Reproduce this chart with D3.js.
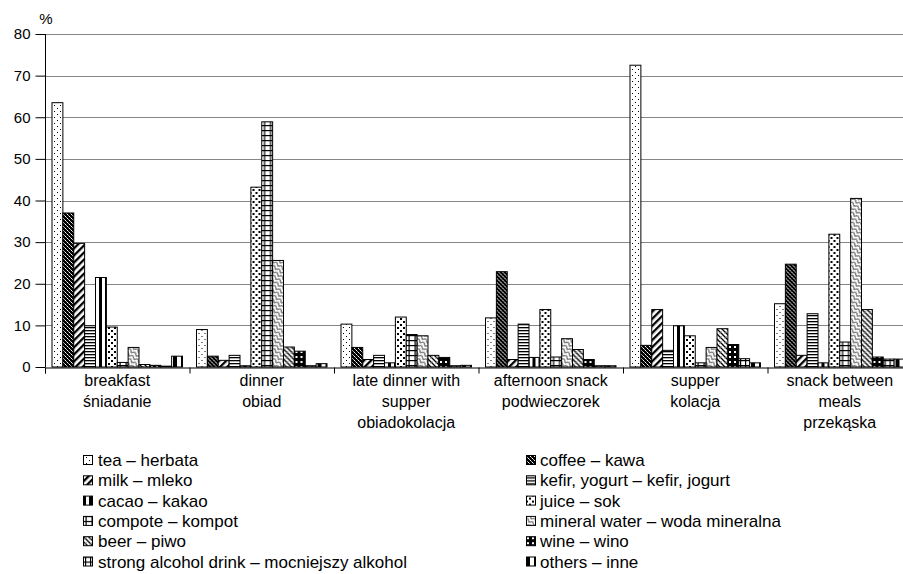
<!DOCTYPE html>
<html>
<head>
<meta charset="utf-8">
<script src="https://cdn.jsdelivr.net/npm/d3@7"></script>
<style>
  html, body { margin: 0; padding: 0; background: #fff; }
  svg { display: block; font-family: "Liberation Sans", Arial, sans-serif; }
</style>
</head>
<body>
<svg id="chart" width="903" height="574"></svg>
<script>
// Meal occasions (category axis), split into label lines
const categories = [
  ["breakfast", "śniadanie"],
  ["dinner", "obiad"],
  ["late dinner with", "supper", "obiadokolacja"],
  ["afternoon snack", "podwieczorek"],
  ["supper", "kolacja"],
  ["snack between", "meals", "przekąska"]
];

// Beverage series, in drawing order
const seriesNames = [
  "tea – herbata",
  "coffee – kawa",
  "milk – mleko",
  "kefir, yogurt – kefir, jogurt",
  "cacao – kakao",
  "juice – sok",
  "compote – kompot",
  "mineral water – woda mineralna",
  "beer – piwo",
  "wine – wino",
  "strong alcohol drink – mocniejszy alkohol",
  "others – inne"
];

// Percent of answers per meal, one array per beverage
const tea       = [63.5, 9.0, 10.3, 11.8, 72.5, 15.2];
const coffee    = [37.0, 2.6, 4.7, 22.9, 5.2, 24.7];
const milk      = [29.7, 1.6, 1.8, 1.8, 13.8, 2.8];
const kefir     = [9.9, 2.8, 2.8, 10.3, 4.0, 12.8];
const cacao     = [21.5, 0.3, 1.0, 2.3, 9.9, 1.0];
const juice     = [9.6, 43.2, 12.0, 13.8, 7.5, 31.9];
const compote   = [1.1, 58.9, 7.8, 2.4, 1.0, 6.0];
const mineral   = [4.7, 25.6, 7.5, 6.8, 4.7, 40.5];
const beer      = [0.6, 4.8, 2.8, 4.2, 9.2, 13.8];
const wine      = [0.4, 3.8, 2.3, 1.8, 5.4, 2.4];
const strong    = [0.2, 0.3, 0.3, 0.3, 2.0, 1.9];
const others    = [2.6, 0.8, 0.4, 0.3, 1.0, 1.9];

const seriesValues = [tea, coffee, milk, kefir, cacao, juice, compote, mineral, beer, wine, strong, others];

const yTicks = [0, 10, 20, 30, 40, 50, 60, 70, 80];

const svg = d3.select("#chart");
const defs = svg.append("defs");

// ---- black & white fill patterns, one per beverage ----
function pattern(id, w, h, draw, transform) {
  const p = defs.append("pattern")
    .attr("id", id)
    .attr("patternUnits", "userSpaceOnUse")
    .attr("width", w).attr("height", h);
  if (transform) p.attr("patternTransform", transform);
  draw(p);
}
const K = "#000", W = "#fff";

// tea: sparse small dots
pattern("p0", 6, 6, p => {
  p.append("rect").attr("width", 6).attr("height", 6).attr("fill", W);
  p.append("rect").attr("x", 0).attr("y", 0).attr("width", 1).attr("height", 1).attr("fill", K);
  p.append("rect").attr("x", 3).attr("y", 3).attr("width", 1).attr("height", 1).attr("fill", K);
});
// coffee: diamond lattice
pattern("p1", 4, 4, p => {
  p.append("rect").attr("width", 4).attr("height", 4).attr("fill", K);
  p.append("rect").attr("x", 0).attr("y", 0).attr("width", 1).attr("height", 1).attr("fill", W);
  p.append("rect").attr("x", 2).attr("y", 2).attr("width", 1).attr("height", 1).attr("fill", W);
  p.append("rect").attr("x", 1).attr("y", 1).attr("width", 1).attr("height", 1).attr("fill", "#aaa");
  p.append("rect").attr("x", 3).attr("y", 3).attr("width", 1).attr("height", 1).attr("fill", "#aaa");
});
// milk: wide upward diagonal
pattern("p2", 5, 5, p => {
  p.append("rect").attr("width", 5).attr("height", 5).attr("fill", W);
  p.append("rect").attr("width", 2.3).attr("height", 5).attr("fill", K);
}, "rotate(45)");
// kefir: horizontal lines
pattern("p3", 4, 3, p => {
  p.append("rect").attr("width", 4).attr("height", 3).attr("fill", W);
  p.append("rect").attr("width", 4).attr("height", 1.3).attr("fill", K);
});
// cacao: wide vertical stripes
pattern("p4", 6, 4, p => {
  p.append("rect").attr("width", 6).attr("height", 4).attr("fill", W);
  p.append("rect").attr("width", 3).attr("height", 4).attr("fill", K);
});
// juice: large staggered dots
pattern("p5", 6, 6, p => {
  p.append("rect").attr("width", 6).attr("height", 6).attr("fill", W);
  p.append("rect").attr("x", 0).attr("y", 0).attr("width", 2).attr("height", 2).attr("fill", K);
  p.append("rect").attr("x", 3).attr("y", 3).attr("width", 2).attr("height", 2).attr("fill", K);
});
// compote: brick grid
pattern("p6", 6, 5, p => {
  p.append("rect").attr("width", 6).attr("height", 5).attr("fill", W);
  p.append("rect").attr("width", 6).attr("height", 1.2).attr("fill", K);
  p.append("rect").attr("x", 2.5).attr("width", 1.2).attr("height", 5).attr("fill", K);
});
// mineral water: zigzag
pattern("p7", 6, 4, p => {
  p.append("rect").attr("width", 6).attr("height", 4).attr("fill", W);
  p.append("path").attr("d", "M0,0.5 L3,3.5 L6,0.5").attr("fill", "none").attr("stroke", K).attr("stroke-width", 1);
}, "rotate(35)");
// beer: downward diagonal with light cross
pattern("p8", 5, 5, p => {
  p.append("rect").attr("width", 5).attr("height", 5).attr("fill", W);
  p.append("path").attr("d", "M-1,-1 L6,6 M4,-1 L6,1 M-1,4 L1,6").attr("stroke", K).attr("stroke-width", 1.3);
  p.append("path").attr("d", "M5,0 L0,5").attr("stroke", "#888").attr("stroke-width", 0.6);
});
// wine: dark with white spots
pattern("p9", 5, 5, p => {
  p.append("rect").attr("width", 5).attr("height", 5).attr("fill", K);
  p.append("rect").attr("x", 1).attr("y", 1).attr("width", 2).attr("height", 2).attr("fill", W);
});
// strong alcohol: crossed grid
pattern("p10", 5, 5, p => {
  p.append("rect").attr("width", 5).attr("height", 5).attr("fill", W);
  p.append("rect").attr("width", 5).attr("height", 1.2).attr("fill", K);
  p.append("rect").attr("x", 2).attr("width", 1.2).attr("height", 5).attr("fill", K);
});
// others: half black
pattern("p11", 8, 4, p => {
  p.append("rect").attr("width", 8).attr("height", 4).attr("fill", W);
  p.append("rect").attr("width", 4).attr("height", 4).attr("fill", K);
});

// ---- scales ----
const plotLeft = 45, plotRight = 912, plotTop = 34, plotBottom = 367;

const y = d3.scaleLinear().domain([0, 80]).range([plotBottom, plotTop]);
const x0 = d3.scaleBand().domain(d3.range(categories.length)).range([plotLeft, plotRight]).padding(0);
const x1 = d3.scaleBand().domain(d3.range(seriesNames.length))
  .range([7, x0.bandwidth() - 7]).padding(0);
const xEdge = d3.scaleLinear().domain([0, categories.length]).range([plotLeft, plotRight]);

// ---- gridlines ----
svg.append("g")
  .selectAll("line")
  .data(yTicks.filter(v => v > 0))
  .join("line")
  .attr("x1", plotLeft).attr("x2", plotRight)
  .attr("y1", d => Math.round(y(d)) + 0.5).attr("y2", d => Math.round(y(d)) + 0.5)
  .attr("stroke", "#868686").attr("stroke-width", 1);

// ---- bars ----
const groups = svg.append("g")
  .selectAll("g")
  .data(categories.map((c, ci) => ci))
  .join("g")
  .attr("transform", ci => `translate(${x0(ci)},0)`);

groups.selectAll("rect")
  .data(ci => seriesValues.map((vals, si) => ({ si, v: vals[ci] })))
  .join("rect")
  .attr("x", d => x1(d.si))
  .attr("y", d => y(d.v))
  .attr("width", x1.bandwidth())
  .attr("height", d => y(0) - y(d.v))
  .attr("fill", d => `url(#p${d.si})`)
  .attr("stroke", K)
  .attr("stroke-width", 1);

// ---- y axis ----
const yAxis = svg.append("g")
  .attr("transform", `translate(${plotLeft + 0.5},0)`)
  .call(d3.axisLeft(y).tickValues(yTicks).tickSize(10).tickPadding(5).tickFormat(d3.format("d")));
yAxis.select(".domain").attr("stroke", K).attr("d", `M0,${plotTop}V${plotBottom}`);
yAxis.selectAll(".tick line").attr("stroke", K);
yAxis.selectAll(".tick text").attr("font-size", 15).attr("fill", K)
  .attr("font-family", '"Liberation Sans", Arial, sans-serif');

svg.append("text")
  .attr("x", 46).attr("y", 24)
  .attr("text-anchor", "middle")
  .attr("font-size", 15)
  .text("%");

// ---- x axis (boundary ticks) ----
const xAxis = svg.append("g")
  .attr("transform", `translate(0,${plotBottom + 0.5})`)
  .call(d3.axisBottom(xEdge).tickValues(d3.range(categories.length + 1)).tickSize(6).tickFormat(""));
xAxis.select(".domain").attr("stroke", K);
xAxis.selectAll(".tick line").attr("stroke", K);

// category labels
const catLabels = svg.append("g")
  .selectAll("text")
  .data(categories.map((lines, ci) => ({ lines, ci })))
  .join("text")
  .attr("text-anchor", "middle")
  .attr("font-size", 16)
  .attr("fill", K);
catLabels.selectAll("tspan")
  .data(d => d.lines.map((t, i) => ({ t, i, ci: d.ci })))
  .join("tspan")
  .attr("x", d => x0(d.ci) + x0.bandwidth() / 2)
  .attr("y", d => 386 + d.i * 21)
  .text(d => d.t);

// ---- legend (two columns, row-major) ----
const legend = svg.append("g");
const legItems = legend.selectAll("g")
  .data(seriesNames.map((name, si) => ({ name, si })))
  .join("g")
  .attr("transform", d => {
    const col = d.si % 2, row = Math.floor(d.si / 2);
    return `translate(${col ? 526 : 83},${460 + row * 20.3})`;
  });
legItems.append("rect")
  .attr("x", 0.5).attr("y", -4.5)
  .attr("width", 9).attr("height", 9)
  .attr("fill", d => `url(#p${d.si})`)
  .attr("stroke", K).attr("stroke-width", 1);
legItems.append("text")
  .attr("x", d => d.si % 2 ? 14 : 15)
  .attr("y", 6)
  .attr("font-size", 17)
  .attr("fill", K)
  .text(d => d.name);
</script>
</body>
</html>
